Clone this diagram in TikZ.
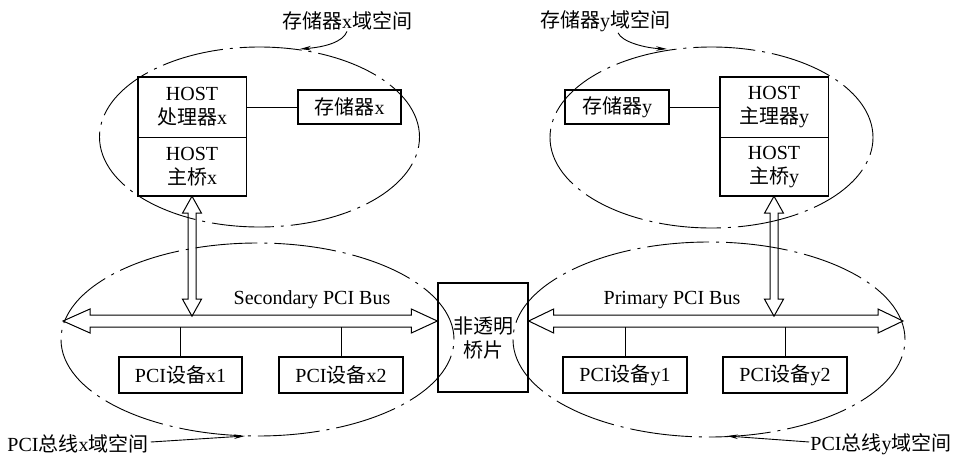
\documentclass[tikz,border=0pt]{standalone}
\usepackage{fontspec}
\setmainfont{Liberation Serif}
\newfontfamily\cjk{Noto Sans CJK SC}
\usetikzlibrary{arrows.meta,calc}
\newcommand\zh[1]{{\cjk #1}}
\begin{document}
\begin{tikzpicture}[x=1pt,y=-1pt,
  every node/.style={font=\fontsize{20}{24}\selectfont, inner sep=0pt},
  box/.style={draw, line width=1.3pt, inner sep=0pt, align=center},
  cell/.style={draw, line width=0.8pt, inner sep=0pt, align=center},
  dom/.style={line width=0.9pt, dash pattern=on 62pt off 7pt on 3pt off 7pt},
  bus/.style={draw, line width=1pt, line join=miter},
  wire/.style={line width=0.9pt},
  lead/.style={line width=0.9pt, -{Stealth[length=11pt,width=4.5pt]}}]

\useasboundingbox (0,0) rectangle (953,456);

% domain ellipses
\draw[dom] (259.5,137) ellipse [x radius=160pt, y radius=90pt];
\draw[dom] (711.5,137.5) ellipse [x radius=161.5pt, y radius=90.5pt];
\draw[dom] (257.5,339.5) ellipse [x radius=196.5pt, y radius=96.5pt];
\draw[dom] (709,339.5) ellipse [x radius=196pt, y radius=97.5pt];

% host x
\node[cell, minimum width=108pt, minimum height=60pt] (hx1) at (192,107) {HOST\\\zh{处理器}x};
\node[cell, minimum width=108pt, minimum height=58pt, anchor=north] (hx2) at (hx1.south) {HOST\\\zh{主桥}x};
\draw[line width=1.3pt] (hx1.north west) rectangle (hx2.south east);
\node[box, minimum width=103pt, minimum height=34pt] (mx) at (349.5,107) {\zh{存储器}x};
\draw[wire] (hx1.east) -- (mx.west);

% host y
\node[cell, minimum width=108pt, minimum height=60pt] (hy1) at (774,107) {HOST\\\zh{主理器}y};
\node[cell, minimum width=108pt, minimum height=58pt, anchor=north] (hy2) at (hy1.south) {HOST\\\zh{主桥}y};
\draw[line width=1.3pt] (hy1.north west) rectangle (hy2.south east);
\node[box, minimum width=104pt, minimum height=34pt] (my) at (617,107) {\zh{存储器}y};
\draw[wire] (my.east) -- (hy1.west);

% bridge
\node[box, minimum width=90pt, minimum height=109pt] (nb) at (483,337.5) {\zh{非透明}\\\zh{桥片}};

% bus labels
\node (sbl) at (312,300) {Secondary PCI Bus};
\node (pbl) at (672,300) {Primary PCI Bus};

% bus axes
\coordinate (sL) at (63,321);
\coordinate (sR) at (nb.west |- sL);
\coordinate (pL) at (nb.east |- sL);
\coordinate (pR) at (903,321);
\coordinate (bb) at (0,327);

% secondary bus
\draw[bus] (sL) -- ++(27,-12) -- ++(0,6) -- ($(sR)+(-26,-6)$) -- ++(0,-6) -- (sR)
  -- ++(-26,12) -- ++(0,-6) -- ($(sL)+(27,6)$) -- ++(0,6) -- cycle;
% primary bus
\draw[bus] (pL) -- ++(25,-12) -- ++(0,6) -- ($(pR)+(-25,-6)$) -- ++(0,-6) -- (pR)
  -- ++(-25,12) -- ++(0,-6) -- ($(pL)+(25,6)$) -- ++(0,6) -- cycle;

% vertical double arrows
\draw[bus] (hx2.south) -- ++(9.5,17) -- ++(-5.5,0) -- ++(0,86) -- ++(5.5,0) -- ++(-9.5,17)
  -- ++(-9.5,-17) -- ++(5.5,0) -- ++(0,-86) -- ++(-5.5,0) -- cycle;
\draw[bus] (hy2.south) -- ++(9.5,17) -- ++(-5.5,0) -- ++(0,86) -- ++(5.5,0) -- ++(-9.5,17)
  -- ++(-9.5,-17) -- ++(5.5,0) -- ++(0,-86) -- ++(-5.5,0) -- cycle;

% PCI devices
\node[box, minimum width=123pt, minimum height=36pt] (px1) at (180.5,375) {PCI\zh{设备}x1};
\node[box, minimum width=124pt, minimum height=36pt] (px2) at (341,375) {PCI\zh{设备}x2};
\node[box, minimum width=124pt, minimum height=36pt] (py1) at (625,375) {PCI\zh{设备}y1};
\node[box, minimum width=124pt, minimum height=36pt] (py2) at (785,375) {PCI\zh{设备}y2};
\foreach \d in {px1,px2,py1,py2} \draw[wire] (\d.north) -- (\d.north |- bb);

% domain labels
\node (lx) at (347,21) {\zh{存储器}x\zh{域空间}};
\draw[lead] ($(lx.south)+(0,1)$) .. controls (343,42) and (325,47) .. (300,49);
\node (ly) at (605,21) {\zh{存储器}y\zh{域空间}};
\draw[lead] ($(ly.south)+(13,1)$) .. controls (622,42) and (645,48) .. (667,49);
\node (lbx) at (78,444) {PCI\zh{总线}x\zh{域空间}};
\draw[lead] ($(lbx.east)+(2,-2)$) -- (245,436);
\node (lby) at (881,444) {PCI\zh{总线}y\zh{域空间}};
\draw[lead] ($(lby.west)+(-1,-2)$) -- (727,436);
\end{tikzpicture}
\end{document}
